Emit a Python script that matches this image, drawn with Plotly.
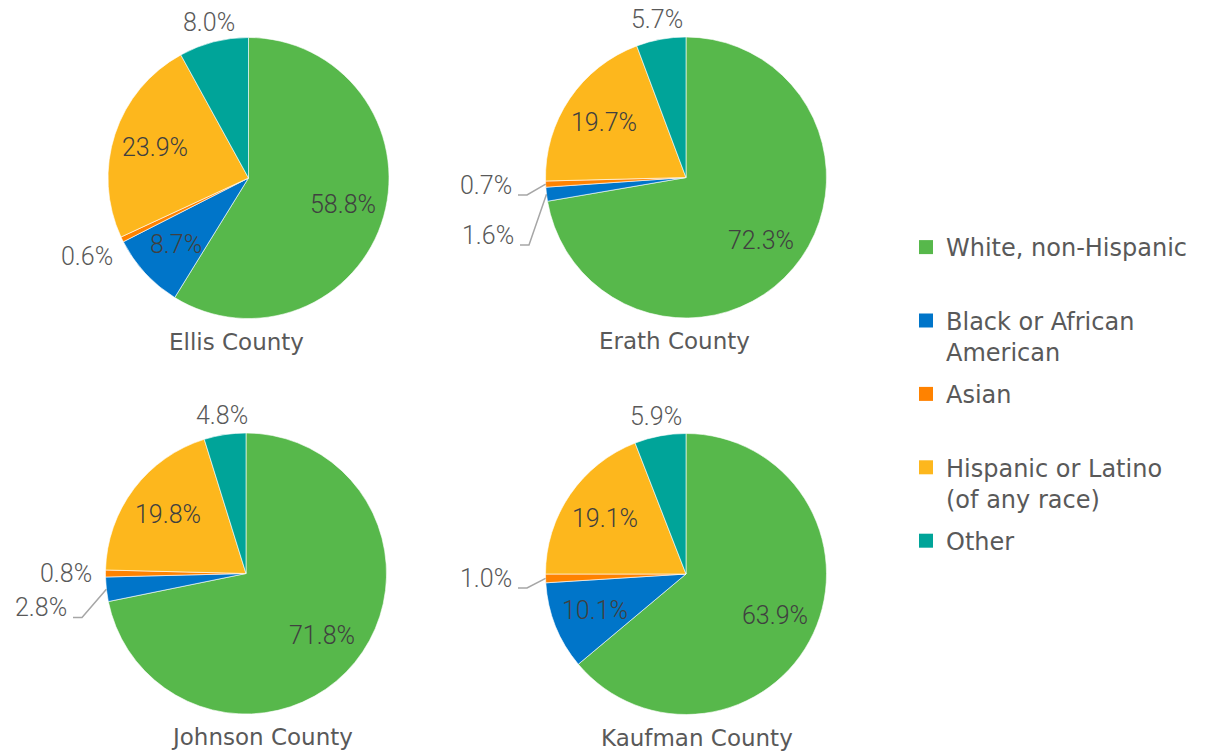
import math
import plotly.graph_objects as go

# ---------------- data ----------------
counties = ["Ellis County", "Erath County", "Johnson County", "Kaufman County"]
categories = ["White, non-Hispanic", "Black or African American", "Asian",
              "Hispanic or Latino (of any race)", "Other"]
ellis = [58.8, 8.7, 0.6, 23.9, 8.0]
erath = [72.3, 1.6, 0.7, 19.7, 5.7]
johnson = [71.8, 2.8, 0.8, 19.8, 4.8]
kaufman = [63.9, 10.1, 1.0, 19.1, 5.9]
series = [ellis, erath, johnson, kaufman]

# ---------------- styles / layout ----------------
colors = ["#57B84B", "#0075C9", "#FF8200", "#FDB71D", "#00A499"]
legend_names = ["White, non-Hispanic<br> ", "Black or African<br>American", "Asian<br> ",
                "Hispanic or Latino<br>(of any race)", "Other<br> "]
W, H = 1226, 752
R = 140.5
centers = [(248.5, 178), (686, 177.5), (246, 573.5), (686, 574)]
title_pos = [(236.5, 342), (674, 341), (262, 737), (697, 738)]
# label mode per slice: in = inside, out = just outside, far = further outside, ('lead', dx, dy) = leader line
label_modes = [
    ["in", "in", "far", "in", "out"],
    ["in", ("lead", -198, 57.5), ("lead", -200, 7.5), "in", "out"],
    ["in", ("lead", -205, 34), "far", "in", "out"],
    ["in", "in", ("lead", -200, 4), "in", "out"],
]
NUM_FONT = "Roboto"
TXT_FONT = "DejaVu Sans"


def px(x):
    return x / W


def py(y):
    return 1 - y / H


fig = go.Figure()
annotations = []
shapes = []

for k, vals in enumerate(series):
    cx, cy = centers[k]
    fig.add_trace(go.Pie(
        labels=categories, values=vals, sort=False, direction="clockwise", rotation=0,
        marker=dict(colors=colors, line=dict(color="white", width=0.6)),
        textinfo="none", showlegend=False, hoverinfo="label+percent",
        domain=dict(x=[px(cx - R), px(cx + R)], y=[py(cy + R), py(cy - R)]),
    ))
    total = sum(vals)
    cum = 0.0
    for i, v in enumerate(vals):
        a = math.radians((cum + v / 2) / total * 360)
        cum += v
        sx, sy = math.sin(a), -math.cos(a)
        mode = label_modes[k][i]
        txt = f"{v:.1f}%"
        if mode == "in":
            r = 0.70 * R
            lx, ly, col = cx + r * sx, cy + r * sy, "#404040"
        elif mode == "out":
            r = 1.14 * R
            lx, ly, col = cx + r * sx, cy + r * sy, "#595959"
        elif mode == "far":
            r = 1.28 * R
            lx, ly, col = cx + r * sx, cy + r * sy, "#595959"
        else:
            _, dx, dy = mode
            lx, ly, col = cx + dx, cy + dy, "#595959"
            ex, ey = cx + R * sx, cy + R * sy
            x0, y0 = lx + 32, ly + 10
            x1 = x0 + 9
            shapes.append(dict(
                type="path", xref="paper", yref="paper",
                path=f"M {px(x0)},{py(y0)} L {px(x1)},{py(y0)} L {px(ex)},{py(ey)}",
                line=dict(color="#A6A6A6", width=1.5)))
        annotations.append(dict(
            x=px(lx), y=py(ly), xref="paper", yref="paper", text=txt, showarrow=False,
            xanchor="center", yanchor="middle",
            font=dict(family=NUM_FONT, size=25, color=col, weight=300)))
    tx, ty = title_pos[k]
    annotations.append(dict(
        x=px(tx), y=py(ty), xref="paper", yref="paper", text=counties[k], showarrow=False,
        xanchor="center", yanchor="middle",
        font=dict(family=TXT_FONT, size=23, color="#595959")))

# legend entries
for i, name in enumerate(legend_names):
    fig.add_trace(go.Scatter(
        x=[None], y=[None], mode="markers", name=name, legendgroup=f"g{i}",
        marker=dict(symbol="square", size=14, color=colors[i]), hoverinfo="skip"))

fig.update_layout(
    width=W, height=H, margin=dict(l=0, r=0, t=0, b=0),
    paper_bgcolor="white", plot_bgcolor="white",
    xaxis=dict(visible=False), yaxis=dict(visible=False),
    annotations=annotations, shapes=shapes,
    legend=dict(x=px(906), y=py(225), xanchor="left", yanchor="top",
                font=dict(family=TXT_FONT, size=24, color="#595959"),
                valign="top", tracegroupgap=8, bgcolor="rgba(0,0,0,0)"),
)

fig.write_html("out.html", config={"displayModeBar": False},
               post_script="document.body.style.margin='0px';")
